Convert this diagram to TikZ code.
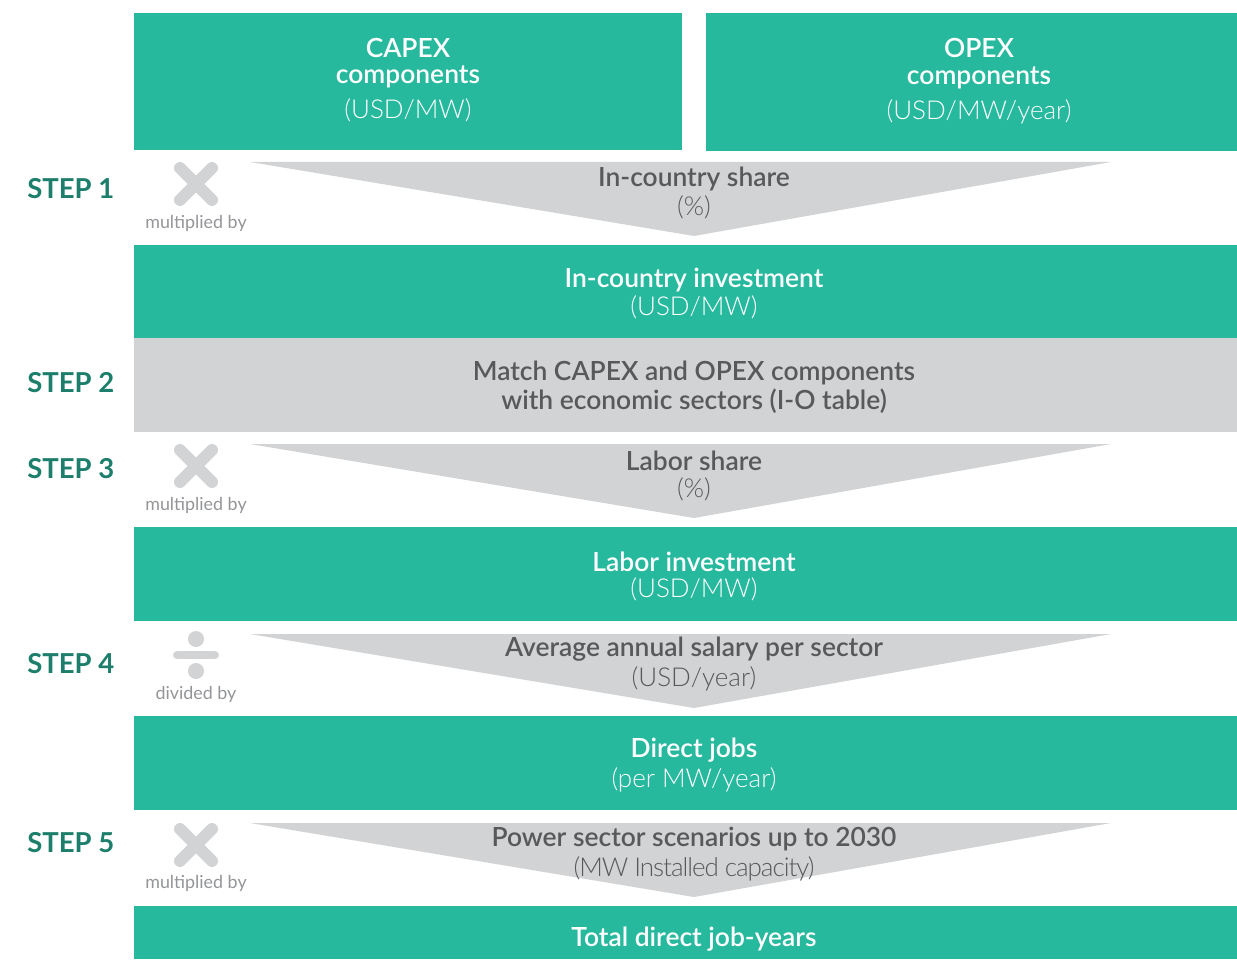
\documentclass[tikz,border=0pt]{standalone}
\usepackage{fontspec}
\setmainfont{Lato}
\newfontfamily\latosemi{Lato Semibold}
\newfontfamily\latolight{Lato Light}
\newfontfamily\latolighttight[LetterSpace=-4]{Lato Light}
\definecolor{teal}{HTML}{27B99E}
\definecolor{lgray}{HTML}{D1D3D4}
\definecolor{dgray}{HTML}{58595B}
\definecolor{stepc}{HTML}{1D7F6B}
\definecolor{iconc}{HTML}{D1D3D4}
\definecolor{capc}{HTML}{939598}
\tikzset{
  tealbox/.style={fill=teal},
  graybox/.style={fill=lgray},
  funnel/.style={fill=lgray},
  head/.style={text=white,font=\latosemi\fontsize{19.8}{21}\selectfont,inner sep=0pt,yshift=-1.2pt},
  unit/.style={text=white,font=\latolight\fontsize{19.5}{21}\selectfont,inner sep=0pt,yshift=-1.2pt},
  ghead/.style={text=dgray,font=\latosemi\fontsize{19.8}{21}\selectfont,inner sep=0pt,yshift=-1.2pt},
  gunit/.style={text=dgray,font=\latolight\fontsize{19.5}{21}\selectfont,inner sep=0pt,yshift=-1.2pt},
  steplabel/.style={text=stepc,font=\bfseries\fontsize{20.6}{22}\selectfont,anchor=west,inner sep=0pt,yshift=-0.8pt},
  caption/.style={text=capc,font=\fontsize{13.4}{15}\selectfont,inner sep=0pt,yshift=-1pt},
  xicon/.style={draw=iconc,line width=9pt,line cap=round},
}
\begin{document}
\begin{tikzpicture}[x=0.75pt,y=-0.75pt]
\useasboundingbox (0,0) rectangle (1237,959);
% top boxes
\fill[tealbox] (134,13) rectangle (682,150);
\fill[tealbox] (706,13) rectangle (1237,151);
\node[head] (capex1) at (408,46) {CAPEX};
\node[head] (capex2) at (408,75) {components};
\node[unit] (capex3) at (408,109) {(USD/MW)};
\node[head] (opex1) at (979,46) {OPEX};
\node[head] (opex2) at (979,76) {components};
\node[unit] (opex3) at (979,110) {(USD/MW/year)};
% step 1
\node[steplabel] (s1) at (27,188) {STEP 1};
\draw[xicon] (180,168) -- (212,200) (212,168) -- (180,200);
\node[caption] (m1) at (196,222) {multiplied by};
\fill[funnel] (250,162) -- (1111,162) -- (694,236) -- cycle;
\node[ghead] (f1a) at (694,177) {In-country share};
\node[gunit] (f1b) at (694,206) {(\%)};
% in-country investment
\fill[tealbox] (134,245) rectangle (1237,338);
\node[head] (ic1) at (694,278) {In-country investment};
\node[unit] (ic2) at (694,306) {(USD/MW)};
% step 2
\fill[graybox] (134,338) rectangle (1237,432);
\node[steplabel] (s2) at (27,382) {STEP 2};
\node[ghead] (m2a) at (694,371) {Match CAPEX and OPEX components};
\node[ghead] (m2b) at (694,400) {with economic sectors (I-O table)};
% step 3
\node[steplabel] (s3) at (27,468) {STEP 3};
\draw[xicon] (180,450) -- (212,482) (212,450) -- (180,482);
\node[caption] (m3) at (196,504) {multiplied by};
\fill[funnel] (250,444) -- (1111,444) -- (694,518) -- cycle;
\node[ghead] (f3a) at (694,459) {Labor share};
\node[gunit] (f3b) at (694,488) {(\%)};
% labor investment
\fill[tealbox] (134,527) rectangle (1237,621);
\node[head] (li1) at (694,560) {Labor investment};
\node[unit] (li2) at (694,588) {(USD/MW)};
% step 4
\node[steplabel] (s4) at (27,662) {STEP 4};
\fill[iconc] (196,639) circle (8);
\fill[iconc] (196,671) circle (8);
\draw[xicon,line width=6pt] (177,655) -- (215,655);
\node[caption] (d4) at (196,693) {divided by};
\fill[funnel] (250,634) -- (1111,634) -- (694,708) -- cycle;
\node[ghead] (f4a) at (694,648) {Average annual salary per sector};
\node[gunit] (f4b) at (694,677) {(USD/year)};
% direct jobs
\fill[tealbox] (134,716) rectangle (1237,810);
\node[head] (dj1) at (694,749) {Direct jobs};
\node[unit] (dj2) at (694,778) {(per MW/year)};
% step 5
\node[steplabel] (s5) at (27,841) {STEP 5};
\draw[xicon] (180,829) -- (212,861) (212,829) -- (180,861);
\node[caption] (m5) at (196,882) {multiplied by};
\fill[funnel] (250,823) -- (1111,823) -- (694,897) -- cycle;
\node[ghead] (f5a) at (694,837) {Power sector scenarios up to 2030};
\node[gunit,font=\latolighttight\fontsize{19.5}{21}\selectfont] (f5b) at (694,867) {(MW Installed capacity)};
% total
\fill[tealbox] (134,906) rectangle (1237,959);
\node[head] (tot) at (694,938) {Total direct job-years};
\end{tikzpicture}
\end{document}
